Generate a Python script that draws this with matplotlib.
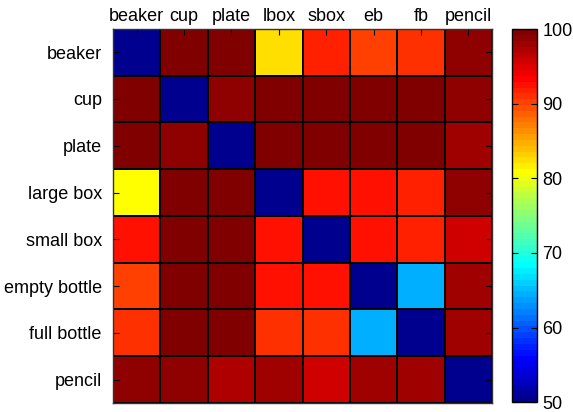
import numpy as np
import matplotlib
matplotlib.use("Agg")
import matplotlib.pyplot as plt
from matplotlib.colors import ListedColormap

plt.rcParams['font.family'] = ['Liberation Sans', 'DejaVu Sans']

col_labels = ['beaker', 'cup', 'plate', 'lbox', 'sbox', 'eb', 'fb', 'pencil']
row_labels = ['beaker', 'cup', 'plate', 'large box', 'small box',
              'empty bottle', 'full bottle', 'pencil']

# accuracy (%), one list per row
beaker = [50.0, 99.8, 99.8, 82.4, 91.8, 90.2, 91.0, 98.8]
cup = [99.8, 50.0, 98.8, 99.8, 99.8, 99.8, 99.8, 98.8]
plate = [99.8, 98.8, 50.0, 99.8, 99.8, 99.8, 99.8, 98.0]
large_box = [80.8, 99.8, 99.8, 50.0, 92.5, 92.5, 91.8, 98.8]
small_box = [92.5, 99.8, 99.8, 92.5, 50.0, 92.5, 91.8, 95.7]
empty_bottle = [90.2, 99.8, 99.8, 92.5, 92.5, 50.0, 64.5, 98.0]
full_bottle = [91.0, 99.8, 99.8, 91.0, 91.0, 64.5, 50.0, 98.0]
pencil = [98.8, 98.8, 97.2, 98.0, 95.7, 98.0, 98.0, 50.0]

conf = np.array([beaker, cup, plate, large_box, small_box,
                 empty_bottle, full_bottle, pencil])


def matlab_jet(m=64):
    n = int(np.ceil(m / 4))
    u = np.concatenate([np.arange(1, n + 1) / n, np.ones(n - 1),
                        np.arange(n, 0, -1) / n])
    g = int(np.ceil(n / 2)) - (m % 4 == 1) + np.arange(1, len(u) + 1)
    r = g + n
    b = g - n
    J = np.zeros((m, 3))
    for ch, idx in enumerate([r, g, b]):
        ok = (idx >= 1) & (idx <= m)
        J[idx[ok] - 1, ch] = u[ok]
    return ListedColormap(J)


cmap = matlab_jet(64)

fig = plt.figure(figsize=(5.73, 4.12), dpi=100)
ax = fig.add_axes([0.197, 0.022, 0.662, 0.908])
cax = fig.add_axes([0.894, 0.024, 0.044, 0.905])

mesh = ax.pcolormesh(conf, cmap=cmap, vmin=50, vmax=100,
                     edgecolors='k', linewidth=1.3)
ax.set_xlim(0, 8)
ax.set_ylim(8, 0)
ax.set_xticks(np.arange(8) + 0.5)
ax.set_yticks(np.arange(8) + 0.5)
ax.set_xticklabels(col_labels)
ax.set_yticklabels(row_labels)
ax.tick_params(axis='both', direction='in', length=4, labelsize=13,
               top=True, bottom=False, left=True, right=True,
               labeltop=True, labelbottom=False, pad=3)
ax.tick_params(axis='y', pad=8)
for s in ax.spines.values():
    s.set_linewidth(1.0)
    s.set_color('#333333')

cb = fig.colorbar(mesh, cax=cax, ticks=[50, 60, 70, 80, 90, 100])
cb.ax.tick_params(direction='in', length=4, labelsize=13, left=True, right=True)
cb.outline.set_linewidth(1.0)

fig.savefig("out.png", dpi=100)
